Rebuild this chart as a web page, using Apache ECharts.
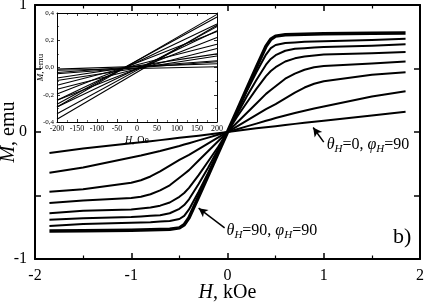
<!DOCTYPE html>
<html><head><meta charset="utf-8">
<script src="https://cdn.jsdelivr.net/npm/echarts@6/dist/echarts.min.js"></script>
<style>html,body{margin:0;padding:0;background:#fff}#c{width:425px;height:303px}</style>
</head><body><div id="c"></div>
<script>
// Main chart: H (kOe) grid and M (emu) curves
const H = [-1.85,-1.5,-1.0,-0.9,-0.8,-0.7,-0.6,-0.5,-0.45,-0.4,-0.3,-0.2,-0.1,0,0.1,0.2,0.3,0.4,0.45,0.5,0.6,0.7,0.8,0.9,1.0,1.5,1.85];
const M1 = [-0.78,-0.778,-0.774,-0.772,-0.77,-0.768,-0.765,-0.755,-0.73,-0.675,-0.51,-0.34,-0.17,0,0.17,0.34,0.51,0.675,0.73,0.755,0.765,0.768,0.77,0.772,0.774,0.778,0.78];
const M2 = [-0.74,-0.725,-0.715,-0.712,-0.71,-0.705,-0.70,-0.685,-0.66,-0.61,-0.47,-0.32,-0.16,0,0.16,0.32,0.47,0.61,0.66,0.685,0.70,0.705,0.71,0.712,0.715,0.725,0.735];
const M3 = [-0.69,-0.68,-0.67,-0.665,-0.66,-0.655,-0.64,-0.605,-0.575,-0.53,-0.41,-0.28,-0.14,0,0.14,0.28,0.41,0.53,0.575,0.605,0.64,0.655,0.66,0.665,0.67,0.68,0.69];
const M4 = [-0.64,-0.62,-0.61,-0.603,-0.595,-0.58,-0.555,-0.51,-0.48,-0.44,-0.34,-0.23,-0.12,0,0.12,0.23,0.34,0.44,0.48,0.51,0.555,0.58,0.595,0.603,0.61,0.62,0.63];
const M5 = [-0.56,-0.54,-0.52,-0.51,-0.49,-0.46,-0.42,-0.36,-0.33,-0.30,-0.225,-0.15,-0.075,0,0.075,0.15,0.225,0.30,0.33,0.36,0.42,0.46,0.49,0.51,0.52,0.54,0.555];
const M6 = [-0.47,-0.45,-0.40,-0.38,-0.35,-0.31,-0.265,-0.22,-0.2,-0.18,-0.135,-0.09,-0.045,0,0.045,0.09,0.135,0.18,0.2,0.22,0.265,0.31,0.35,0.38,0.40,0.45,0.47];
const M7 = [-0.32,-0.28,-0.2,-0.185,-0.168,-0.15,-0.13,-0.11,-0.099,-0.088,-0.066,-0.044,-0.022,0,0.022,0.044,0.066,0.088,0.099,0.11,0.13,0.15,0.168,0.185,0.2,0.28,0.32];
const M8 = [-0.165,-0.13,-0.088,-0.08,-0.072,-0.064,-0.055,-0.046,-0.042,-0.038,-0.029,-0.02,-0.01,0,0.01,0.02,0.029,0.038,0.042,0.046,0.055,0.064,0.072,0.08,0.088,0.13,0.16];
const mainCurves = [M1,M2,M3,M4,M5,M6,M7,M8];

// Inset: H (Oe) endpoints, descending and ascending branches
const insetH = [-200, 200];
const insetDesc = [[-0.29,0.39],[-0.27,0.37],[-0.24,0.32],[-0.195,0.265],[-0.13,0.17],[-0.077,0.10],[-0.037,0.05],[-0.012,0.028]];
const insetAsc  = [[-0.38,0.31],[-0.34,0.30],[-0.29,0.27],[-0.24,0.22],[-0.16,0.14],[-0.095,0.085],[-0.046,0.042],[-0.02,0.006]];

const xTicks = [-2,-1,0,1,2];
const yTicks = [-1,0,1];

const F = 'Liberation Serif, Times New Roman, serif';
const chart = echarts.init(document.getElementById('c'));

function axisBase(extra){
  return Object.assign({
    axisLine:{show:true,onZero:false,lineStyle:{color:'#000',width:2}},
    axisTick:{show:true,inside:true,length:6,lineStyle:{color:'#000',width:1.5}},
    minorTick:{show:true,splitNumber:2,length:3.5,lineStyle:{color:'#000',width:1.2}},
    splitLine:{show:false},
    axisLabel:{show:false},
    nameMoveOverlap:false
  }, extra);
}
function insetAxis(extra){
  return Object.assign({
    axisLine:{show:true,onZero:false,lineStyle:{color:'#000',width:1}},
    axisTick:{show:true,inside:true,length:3,lineStyle:{color:'#000',width:0.8}},
    minorTick:{show:true,splitNumber:2,length:2,lineStyle:{color:'#000',width:0.6}},
    splitLine:{show:false},
    axisLabel:{show:false},
    nameMoveOverlap:false
  }, extra);
}
const series = [];
mainCurves.forEach((M,i)=>{
  series.push({type:'line',xAxisIndex:0,yAxisIndex:0,showSymbol:false,smooth:false,
    lineStyle:{color:'#000',width:i===0?3.5:2,join:'round'},
    data:H.map((h,j)=>[h,M[j]]), z:2, silent:true});
});
insetDesc.forEach((m)=>{
  series.push({type:'line',xAxisIndex:2,yAxisIndex:2,showSymbol:false,lineStyle:{color:'#000',width:1.1},
    data:insetH.map((h,j)=>[h,m[j]]), z:5, silent:true});
});
insetAsc.forEach((m)=>{
  series.push({type:'line',xAxisIndex:2,yAxisIndex:2,showSymbol:false,lineStyle:{color:'#000',width:1.1},
    data:insetH.map((h,j)=>[h,m[j]]), z:5, silent:true});
});
const rich = {
  g:{fontFamily:F,fontSize:16,fontStyle:'italic',color:'#000'},
  t:{fontFamily:F,fontSize:16,color:'#000'},
  s:{fontFamily:F,fontSize:11,fontStyle:'italic',color:'#000',padding:[9,0,0,0]}
};
series.push({type:'line',xAxisIndex:0,yAxisIndex:0,data:[],z:6,
  markPoint:{symbolSize:0,silent:true,
    label:{show:true,position:'right',distance:0,rich:rich},
    data:[
      {coord:[1.03,-0.10],label:{formatter:'{g|θ}{s|H}{t|=0, }{g|φ}{s|H}{t|=90}'}},
      {coord:[-0.01,-0.78],label:{formatter:'{g|θ}{s|H}{t|=90, }{g|φ}{s|H}{t|=90}'}},
      {coord:[1.72,-0.83],label:{formatter:'{b|b)}',rich:{b:{fontFamily:F,fontSize:22,color:'#000'}}}}
    ]},
  markLine:{silent:true,symbol:['none','arrow'],symbolSize:[7,9],
    lineStyle:{color:'#000',width:1.5,type:'solid'},label:{show:false},
    data:[
      [{coord:[1.0,-0.08]},{coord:[0.89,0.035]}],
      [{coord:[-0.03,-0.755]},{coord:[-0.30,-0.60]}]
    ]}
});

chart.setOption({
  animation:false,
  backgroundColor:'#fff',
  grid:[
    {left:35,right:5,top:5,bottom:44,containLabel:false,outerBoundsMode:'none'},
    {left:57,right:208,top:13,bottom:181,show:true,backgroundColor:'#fff',borderWidth:0,z:4,containLabel:false,outerBoundsMode:'none'}
  ],
  xAxis:[
    axisBase({type:'value',gridIndex:0,min:-2,max:2,interval:1,position:'bottom',
      axisLabel:{show:true,margin:9,fontFamily:F,fontSize:16,color:'#000',formatter:v=>xTicks.includes(v)?String(v):''},
      name:'{i|H}{n|, kOe}',nameLocation:'middle',nameGap:24,
      nameTextStyle:{rich:{i:{fontFamily:F,fontSize:20,fontStyle:'italic',color:'#000'},n:{fontFamily:F,fontSize:20,color:'#000'}}}}),
    axisBase({type:'value',gridIndex:0,min:-2,max:2,interval:1,position:'top'}),
    insetAxis({type:'value',gridIndex:1,min:-200,max:200,interval:50,position:'bottom',z:5,
      axisLabel:{show:true,margin:3,fontFamily:F,fontSize:8,color:'#000'},
      name:'{i|H}{n|, Oe}',nameLocation:'middle',nameGap:13,
      nameTextStyle:{rich:{i:{fontFamily:F,fontSize:10,fontStyle:'italic',color:'#000'},n:{fontFamily:F,fontSize:10,color:'#000'}}}}),
    insetAxis({type:'value',gridIndex:1,min:-200,max:200,interval:50,position:'top',z:5})
  ],
  yAxis:[
    axisBase({type:'value',gridIndex:0,min:-1,max:1,interval:0.5,position:'left',
      minorTick:{show:false},
      axisLabel:{show:true,margin:8,fontFamily:F,fontSize:16,color:'#000',formatter:v=>yTicks.includes(v)?String(v):''},
      name:'{i|M}{n|, emu}',nameLocation:'middle',nameGap:16,nameRotate:90,
      nameTextStyle:{rich:{i:{fontFamily:F,fontSize:20,fontStyle:'italic',color:'#000'},n:{fontFamily:F,fontSize:20,color:'#000'}}}}),
    axisBase({type:'value',gridIndex:0,min:-1,max:1,interval:0.5,position:'right',minorTick:{show:false}}),
    insetAxis({type:'value',gridIndex:1,min:-0.4,max:0.4,interval:0.2,position:'left',z:5,
      axisLabel:{show:true,margin:3,fontFamily:F,fontSize:7,color:'#000',formatter:v=>v.toFixed(1).replace('.',',')},
      name:'{i|M}{n|, emu}',nameLocation:'middle',nameGap:12,nameRotate:90,
      nameTextStyle:{rich:{i:{fontFamily:F,fontSize:9,fontStyle:'italic',color:'#000'},n:{fontFamily:F,fontSize:9,color:'#000'}}}}),
    insetAxis({type:'value',gridIndex:1,min:-0.4,max:0.4,interval:0.2,position:'right',z:5})
  ],
  series:series
});
</script></body></html>
